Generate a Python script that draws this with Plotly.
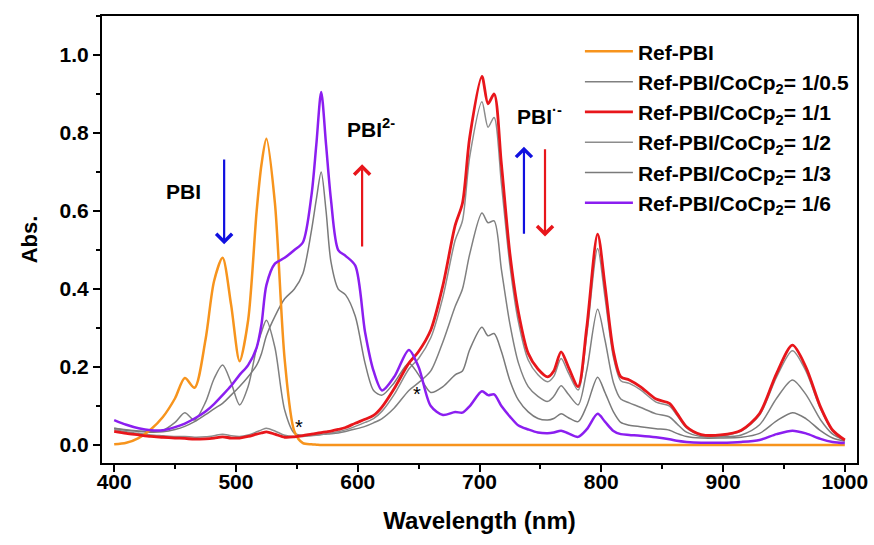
import plotly.graph_objects as go

# Wavelength grid (nm) shared by all spectra
wavelength = [
    400, 410, 420, 430, 440, 450,
    458, 466, 475, 482, 489, 496, 503, 510, 517, 521,
    525, 532, 540, 548, 555, 562, 566, 570, 574, 578,
    584, 590, 598, 606, 613, 620, 630, 642, 650, 660,
    670, 680, 686, 692, 702, 707, 712, 718, 725, 732,
    740, 748, 756, 761, 767, 773, 781, 788, 797, 803,
    810, 816, 823, 832, 845, 856, 862, 870, 882, 898,
    915, 930, 944, 957, 968, 980, 990, 1000,
]

abs_ref = [
    0.002, 0.006, 0.018, 0.04, 0.072, 0.12,
    0.172, 0.147, 0.27, 0.42, 0.48, 0.36, 0.215, 0.32, 0.6, 0.72,
    0.785, 0.62, 0.22, 0.035, 0.005, 0.002, 0.001, 0.0, 0.0, 0.0,
    0.0, 0.0, 0.0, 0.0, 0.0, 0.0, 0.0, 0.0, 0.0, 0.0,
    0.0, 0.0, 0.0, 0.0, 0.0, 0.0, 0.0, 0.0, 0.0, 0.0,
    0.0, 0.0, 0.0, 0.0, 0.0, 0.0, 0.0, 0.0, 0.0, 0.0,
    0.0, 0.0, 0.0, 0.0, 0.0, 0.0, 0.0, 0.0, 0.0, 0.0,
    0.0, 0.0, 0.0, 0.0, 0.0, 0.0, 0.0, 0.0,
]

abs_r05 = [
    0.043, 0.039, 0.036, 0.035, 0.038, 0.058,
    0.083, 0.064, 0.11, 0.17, 0.205, 0.16, 0.103, 0.15, 0.25, 0.29,
    0.32, 0.25, 0.09, 0.03, 0.025, 0.026, 0.026, 0.027, 0.028, 0.029,
    0.031, 0.035, 0.041, 0.048, 0.057, 0.068, 0.095, 0.14, 0.16, 0.19,
    0.265, 0.355, 0.40, 0.49, 0.595, 0.57, 0.575, 0.45, 0.31, 0.21,
    0.15, 0.125, 0.112, 0.125, 0.152, 0.13, 0.103, 0.19, 0.348, 0.27,
    0.16, 0.118, 0.108, 0.097, 0.08, 0.072, 0.055, 0.033, 0.022, 0.021,
    0.026, 0.052, 0.12, 0.167, 0.13, 0.065, 0.028, 0.012,
]

abs_r1 = [
    0.035, 0.03, 0.026, 0.022, 0.02, 0.018,
    0.017, 0.015, 0.016, 0.018, 0.021, 0.018, 0.018, 0.022, 0.028, 0.031,
    0.034, 0.028, 0.02, 0.021, 0.024, 0.028, 0.03, 0.032, 0.034, 0.036,
    0.04, 0.045, 0.056, 0.066, 0.076, 0.098, 0.145, 0.21, 0.24, 0.295,
    0.41, 0.563, 0.62, 0.79, 0.945, 0.875, 0.9, 0.72, 0.49, 0.34,
    0.235, 0.195, 0.175, 0.19, 0.239, 0.2, 0.15, 0.3, 0.541, 0.41,
    0.24, 0.175, 0.167, 0.15, 0.118, 0.107, 0.082, 0.047, 0.027, 0.026,
    0.038, 0.081, 0.184, 0.256, 0.2, 0.098, 0.038, 0.013,
]

abs_r2 = [
    0.04, 0.034, 0.03, 0.026, 0.024, 0.022,
    0.022, 0.02, 0.021, 0.024, 0.028, 0.024, 0.022, 0.026, 0.034, 0.039,
    0.043, 0.036, 0.025, 0.022, 0.022, 0.024, 0.025, 0.027, 0.029, 0.031,
    0.034, 0.039, 0.048, 0.058, 0.068, 0.087, 0.13, 0.195, 0.222, 0.275,
    0.38, 0.525, 0.575, 0.74, 0.88, 0.815, 0.84, 0.67, 0.46, 0.315,
    0.218, 0.18, 0.162, 0.176, 0.222, 0.185, 0.141, 0.28, 0.504, 0.38,
    0.225, 0.165, 0.158, 0.142, 0.11, 0.1, 0.077, 0.044, 0.025, 0.024,
    0.036, 0.077, 0.175, 0.242, 0.19, 0.093, 0.036, 0.012,
]

abs_r3 = [
    0.043, 0.038, 0.035, 0.033, 0.034, 0.04,
    0.048, 0.06, 0.078, 0.093, 0.107, 0.128, 0.15, 0.175, 0.205, 0.235,
    0.28, 0.33, 0.375, 0.40, 0.44, 0.55, 0.63, 0.70, 0.60, 0.47,
    0.40, 0.385, 0.33, 0.21, 0.14, 0.128, 0.16, 0.21, 0.18, 0.135,
    0.15, 0.18, 0.19, 0.245, 0.302, 0.28, 0.286, 0.24, 0.165, 0.115,
    0.085, 0.068, 0.064, 0.068, 0.08, 0.07, 0.06, 0.1, 0.174, 0.135,
    0.085, 0.058, 0.051, 0.047, 0.042, 0.038, 0.03, 0.022, 0.018, 0.018,
    0.02, 0.03, 0.062, 0.083, 0.068, 0.037, 0.018, 0.01,
]

abs_r6 = [
    0.064, 0.052, 0.043, 0.038, 0.038, 0.046,
    0.055, 0.068, 0.086, 0.105, 0.128, 0.152, 0.18, 0.205, 0.25, 0.31,
    0.41, 0.465, 0.48, 0.5, 0.52, 0.64, 0.77, 0.905, 0.77, 0.63,
    0.5, 0.485, 0.46, 0.29, 0.19, 0.14, 0.175, 0.244, 0.2, 0.1,
    0.077, 0.085, 0.083, 0.1, 0.138, 0.128, 0.13, 0.1, 0.073, 0.05,
    0.04, 0.032, 0.03, 0.032, 0.037, 0.03, 0.021, 0.04, 0.08, 0.06,
    0.036, 0.028, 0.026, 0.024, 0.02, 0.015, 0.011, 0.008, 0.006, 0.006,
    0.008, 0.013, 0.028, 0.037, 0.03, 0.016, 0.008, 0.005,
]

series_names = [
    "Ref-PBI",
    "Ref-PBI/CoCp<sub>2</sub>= 1/0.5",
    "Ref-PBI/CoCp<sub>2</sub>= 1/1",
    "Ref-PBI/CoCp<sub>2</sub>= 1/2",
    "Ref-PBI/CoCp<sub>2</sub>= 1/3",
    "Ref-PBI/CoCp<sub>2</sub>= 1/6",
]
series_values = [abs_ref, abs_r05, abs_r1, abs_r2, abs_r3, abs_r6]
series_colors = ["#F7941D", "#808080", "#E8161B", "#8C8C8C", "#7A7A7A", "#8B1EF0"]
series_widths = [2.5, 1.5, 2.8, 1.5, 1.5, 2.5]

FONT = "Arial, Liberation Sans, sans-serif"

fig = go.Figure()
for i, (name, vals, col, w) in enumerate(zip(series_names, series_values, series_colors, series_widths)):
    fig.add_trace(go.Scatter(
        x=wavelength, y=vals, name=name, mode="lines",
        legendgroup=f"g{i}", legendrank=i + 1,
        line=dict(color=col, width=w, shape="spline", smoothing=0.8),
    ))

# draw order: gray curves below the coloured ones
fig.data = tuple(fig.data[i] for i in [1, 3, 4, 0, 2, 5])

axis_common = dict(
    showline=True, linecolor="black", linewidth=2, mirror=True,
    ticks="outside", ticklen=7, tickwidth=2, tickcolor="black",
    showgrid=False, zeroline=False, automargin=False,
    tickfont=dict(family=FONT, size=21, color="black", weight="bold"),
    minor=dict(ticks="outside", ticklen=4, tickwidth=2, tickcolor="black"),
)

fig.update_xaxes(
    range=[390, 1010], tickmode="array", tickvals=[400, 500, 600, 700, 800, 900, 1000],
    minor_dtick=50, minor_tick0=400, ticklabelstandoff=-8,
    title=dict(text="Wavelength (nm)", font=dict(family=FONT, size=24, color="black", weight="bold"), standoff=20),
    **axis_common,
)
fig.update_yaxes(
    range=[-0.046, 1.1], tickmode="array", tickvals=[0.0, 0.2, 0.4, 0.6, 0.8, 1.0],
    ticktext=["0.0", "0.2", "0.4", "0.6", "0.8", "1.0"],
    minor_dtick=0.1, minor_tick0=0,
    title=dict(text="Abs.", font=dict(family=FONT, size=22, color="black", weight="bold"), standoff=16),
    **axis_common,
)

ann_font = dict(family=FONT, size=21, color="black", weight="bold")
annotations = [
    dict(x=456.6, y=0.65, text="PBI", showarrow=False, font=ann_font),
    dict(x=611, y=0.813, text="PBI<sup>2-</sup>", showarrow=False, font=ann_font),
    dict(x=749, y=0.845, text="PBI<sup>·-</sup>", showarrow=False, font=ann_font),
    dict(x=551.8, y=0.046, text="*", showarrow=False, font=dict(family=FONT, size=20, color="black")),
    dict(x=648.7, y=0.13, text="*", showarrow=False, font=dict(family=FONT, size=20, color="black")),
]
# trend arrows: (x, tail y, head y, colour)
arrows = [
    (490.3, 0.736, 0.515, "#1010E0"),
    (603.6, 0.505, 0.72, "#E8161B"),
    (736.5, 0.538, 0.765, "#1010E0"),
    (753.8, 0.762, 0.535, "#E8161B"),
]
for ax_x, y0, y1, col in arrows:
    annotations.append(dict(
        x=ax_x, y=y1, ax=ax_x, ay=y0, xref="x", yref="y", axref="x", ayref="y",
        text="", showarrow=True, arrowhead=4, arrowsize=1.4, arrowwidth=2.2, arrowcolor=col,
    ))

fig.update_layout(
    width=874, height=545,
    margin=dict(l=102, r=17, t=16, b=82),
    paper_bgcolor="white", plot_bgcolor="white",
    annotations=annotations,
    showlegend=True,
    legend=dict(
        x=0.633, y=0.966, xanchor="left", yanchor="top",
        bgcolor="rgba(0,0,0,0)", borderwidth=0,
        font=dict(family=FONT, size=21, color="black", weight="bold"),
        itemwidth=48, tracegroupgap=0, traceorder="grouped",
    ),
)

fig.write_html("out.html")
